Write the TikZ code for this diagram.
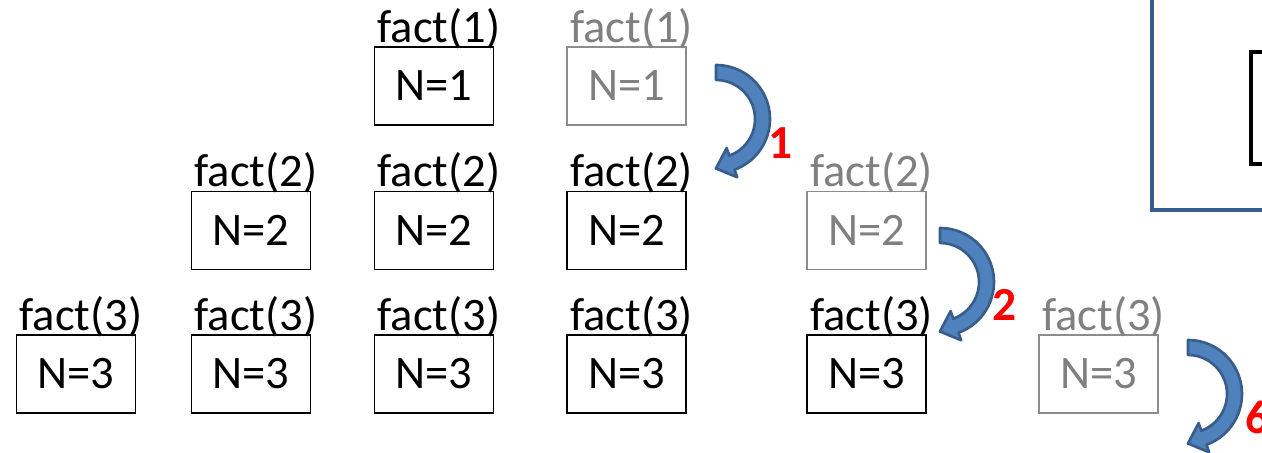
\documentclass[tikz,border=0pt]{standalone}
\usepackage{fontspec}
\setmainfont{Carlito}
\usetikzlibrary{positioning}

\definecolor{arrowfill}{HTML}{4F81BD}
\definecolor{arrowedge}{HTML}{385D8A}

\tikzset{
  frame/.style={draw, line width=1.1pt, minimum width=2.38cm, minimum height=1.56cm,
    inner sep=0pt, font=\fontsize{26.5}{31}\selectfont},
  call/.style={inner sep=0pt, xshift=0.1cm, font=\fontsize{26.5}{31}\selectfont},
  done/.style={draw=black!45, text=black!50},
  result/.style={text=red, inner sep=0pt, font=\fontsize{27}{32}\selectfont\bfseries},
  % curved return arrow, drawn around its centre
  retarrow/.pic={
    \filldraw[fill=arrowfill, draw=arrowedge, line width=1.5pt, line join=round]
      plot[domain=-90:70, samples=40] ({54*cos(\x)},{54*sin(\x)})
      -- ({62*cos(70)},{62*sin(70)})
      -- ({46.5*cos(70)-17*sin(70)},{46.5*sin(70)+17*cos(70)})
      -- ({31*cos(70)},{31*sin(70)})
      -- plot[domain=70:-90, samples=40] ({39*cos(\x)},{39*sin(\x)})
      -- cycle;
  }
}

\begin{document}
\begin{tikzpicture}[x=0.02cm, y=-0.02cm]
  \clip (0,0) rectangle (1262,453);

  % stack frames
  \node (n13) [frame] at (434,86) {N=1};
  \node (n14) [frame, done] at (626.5,86) {N=1};

  \node (n22) [frame] at (251,230.5) {N=2};
  \node (n23) [frame] at (434,230.5) {N=2};
  \node (n24) [frame] at (626.5,230.5) {N=2};
  \node (n25) [frame, done] at (866.5,230.5) {N=2};

  \node (n31) [frame] at (76,374) {N=3};
  \node (n32) [frame] at (251,374) {N=3};
  \node (n33) [frame] at (434,374) {N=3};
  \node (n34) [frame] at (626.5,374) {N=3};
  \node (n35) [frame] at (866.5,374) {N=3};
  \node (n36) [frame, done] at (1098.5,374) {N=3};

  % call labels
  \node (f13) [call, above=0.08cm of n13, anchor=base] {fact(1)};
  \node (f14) [call, text=black!50, above=0.08cm of n14, anchor=base] {fact(1)};

  \node (f22) [call, above=0.08cm of n22, anchor=base] {fact(2)};
  \node (f23) [call, above=0.08cm of n23, anchor=base] {fact(2)};
  \node (f24) [call, above=0.08cm of n24, anchor=base] {fact(2)};
  \node (f25) [call, text=black!50, above=0.08cm of n25, anchor=base] {fact(2)};

  \node (f31) [call, above=0.08cm of n31, anchor=base] {fact(3)};
  \node (f32) [call, above=0.08cm of n32, anchor=base] {fact(3)};
  \node (f33) [call, above=0.08cm of n33, anchor=base] {fact(3)};
  \node (f34) [call, above=0.08cm of n34, anchor=base] {fact(3)};
  \node (f35) [call, above=0.08cm of n35, anchor=base] {fact(3)};
  \node (f36) [call, text=black!50, above=0.08cm of n36, anchor=base] {fact(3)};

  % returned values
  \pic at (716,119) {retarrow};
  \pic at (940,282) {retarrow};
  \pic at (1188,394) {retarrow};
  \node (r1) [result] at (781,143) {1};
  \node (r2) [result] at (1005,305) {2};
  \node (r6) [result] at (1258,417) {6};

  % panel on the right
  \draw[arrowedge, line width=2.3pt] (1152,-20) rectangle (1300,210);
  \draw[line width=2.3pt] (1251,52) rectangle (1300,164);
\end{tikzpicture}
\end{document}
